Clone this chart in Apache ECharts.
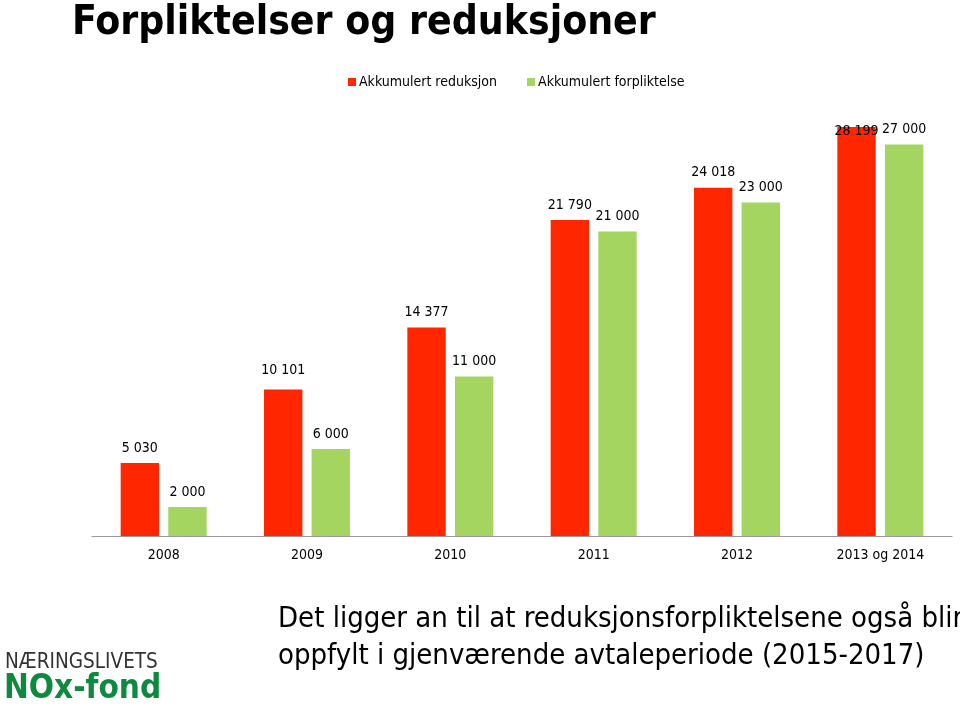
<!DOCTYPE html>
<html><head><meta charset="utf-8">
<script src="https://cdn.jsdelivr.net/npm/echarts@6/dist/echarts.min.js"></script>
<style>html,body{margin:0;padding:0;background:#fff}#c{width:960px;height:707px}</style>
</head><body><div id="c"></div>
<script>
const categories = ['2008','2009','2010','2011','2012','2013 og 2014'];
const reduksjon = [5030, 10101, 14377, 21790, 24018, 28199];
const forpliktelse = [2000, 6000, 11000, 21000, 23000, 27000];
const seriesNames = ['Akkumulert reduksjon', 'Akkumulert forpliktelse'];

const fmt = v => String(v).replace(/\B(?=(\d{3})+(?!\d))/g, ' ');
const redOffsets = {1: -4, 5: 19};

const chart = echarts.init(document.getElementById('c'));
chart.setOption({
  animation: false,
  title: {
    text: 'Forpliktelser og reduksjoner',
    left: 67, top: -2,
    textStyle: {fontFamily: 'DejaVu Sans Condensed', fontWeight: 'bold', fontSize: 40.5, color: '#000'}
  },
  legend: {
    top: 70, left: 343,
    itemWidth: 8, itemHeight: 8, itemGap: 30,
    icon: 'rect',
    textStyle: {fontFamily: 'DejaVu Sans Condensed', fontSize: 14, color: '#000', padding: [0,0,0,-2]},
    data: seriesNames
  },
  grid: {left: 92, right: 8, top: 101, bottom: 171},
  xAxis: {
    type: 'category', data: categories,
    axisLine: {lineStyle: {color: '#999', width: 1}},
    axisTick: {show: false},
    axisLabel: {fontFamily: 'DejaVu Sans Condensed', fontSize: 14, color: '#000', margin: 12}
  },
  yAxis: {type: 'value', min: 0, max: 30000, show: false, splitLine: {show: false}},
  series: [
    {
      name: seriesNames[0], type: 'bar', barGap: '24%', barCategoryGap: '40%',
      itemStyle: {color: '#FF2600'},
      label: {show: true, position: 'top', distance: 8, formatter: p => fmt(p.value),
        fontFamily: 'DejaVu Sans Condensed', fontSize: 14, color: '#000'},
      data: reduksjon.map((v, i) => redOffsets[i] !== undefined ? {value: v, label: {offset: [0, redOffsets[i]]}} : v)
    },
    {
      name: seriesNames[1], type: 'bar',
      itemStyle: {color: '#A3D560'},
      label: {show: true, position: 'top', distance: 8, formatter: p => fmt(p.value),
        fontFamily: 'DejaVu Sans Condensed', fontSize: 14, color: '#000'},
      data: forpliktelse
    }
  ],
  graphic: [
    {type: 'text', left: 278, top: 601, style: {text: 'Det ligger an til at reduksjonsforpliktelsene også blir\noppfylt i gjenværende avtaleperiode (2015-2017)',
      fontFamily: 'DejaVu Sans Condensed', fontSize: 29, lineHeight: 37, fill: '#000'}},
    {type: 'text', left: 5, top: 652, style: {text: 'NÆRINGSLIVETS', fontFamily: 'DejaVu Sans Condensed', fontWeight: 'lighter', fontSize: 20.5, fill: '#333'}},
    {type: 'text', left: 4, top: 673, style: {text: 'NOx-fond', fontFamily: 'DejaVu Sans Condensed', fontWeight: 'bold', fontSize: 33, fill: '#0E8A3E'}}
  ]
});
</script></body></html>
